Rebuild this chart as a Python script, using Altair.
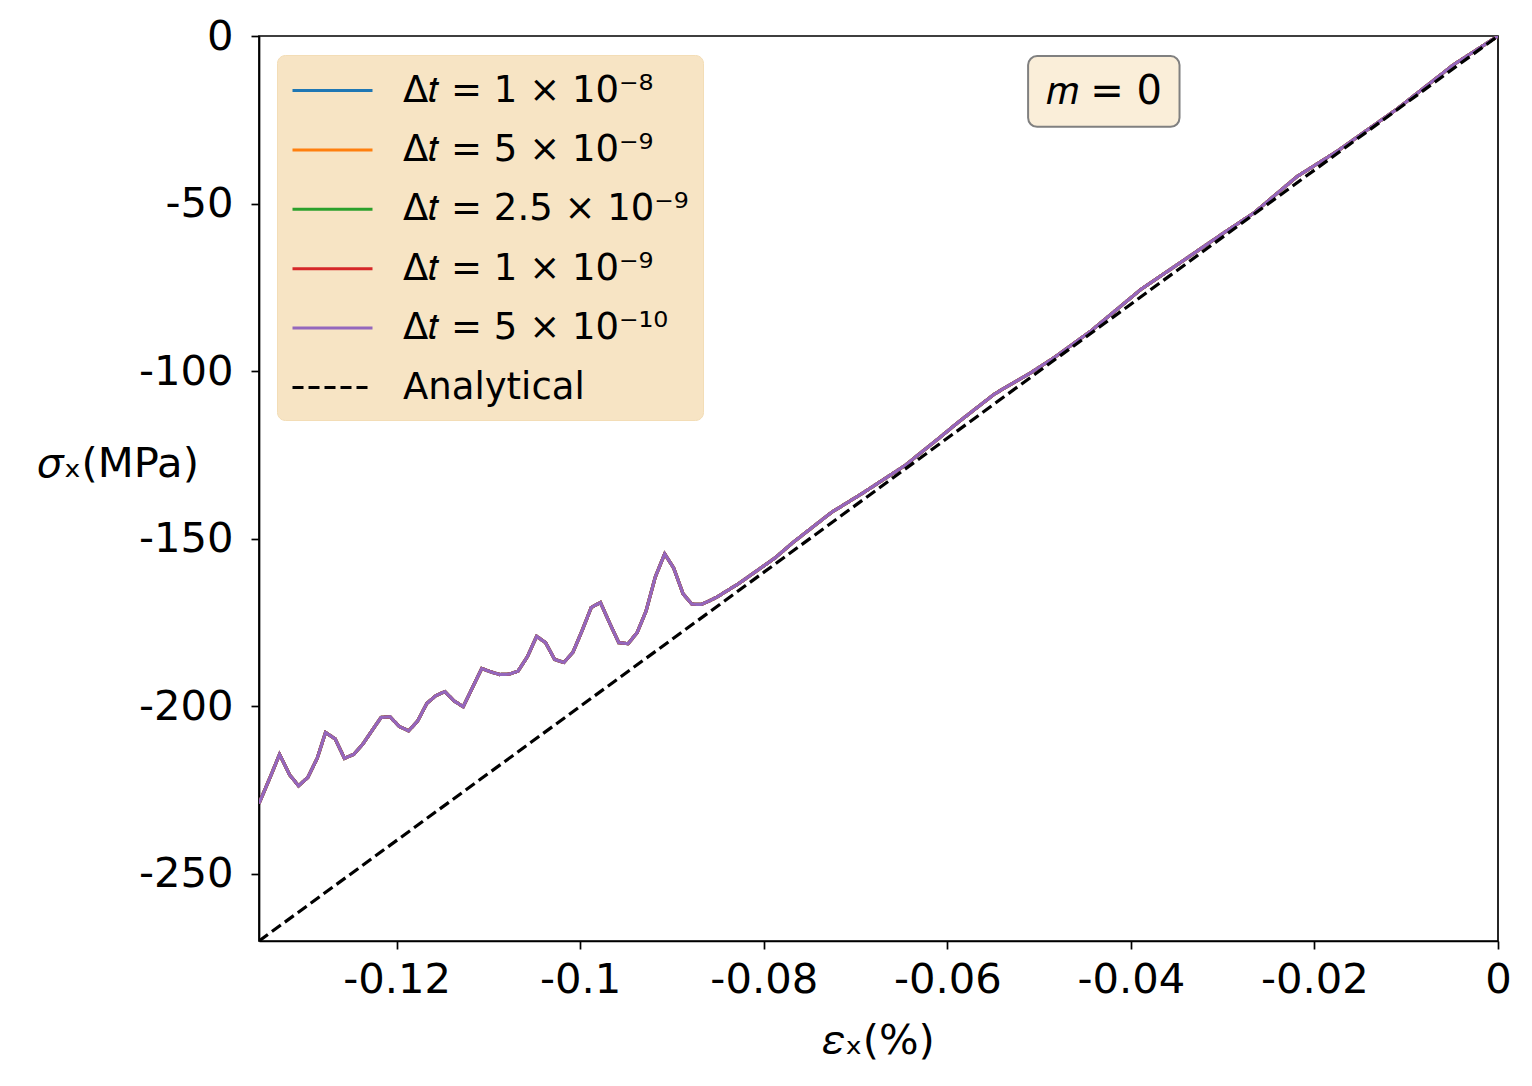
import altair as alt
import pandas as pd

# ---- data ----
series_labels = ["Δ𝑡 = 1 × 10⁻⁸", "Δ𝑡 = 5 × 10⁻⁹", "Δ𝑡 = 2.5 × 10⁻⁹",
                 "Δ𝑡 = 1 × 10⁻⁹", "Δ𝑡 = 5 × 10⁻¹⁰", "Analytical"]
series_colors = ["#1f77b4", "#ff7f0e", "#2ca02c", "#d62728", "#9467bd", "#000000"]
series_dash = [[1, 0], [1, 0], [1, 0], [1, 0], [1, 0], [11, 5]]

strain = [-0.1350, -0.13367, -0.13276, -0.13167, -0.13069, -0.12968, -0.12866, -0.12775,
          -0.12670, -0.12569, -0.12467, -0.12370, -0.12268, -0.12170, -0.12073, -0.11971,
          -0.11870, -0.11772, -0.11671, -0.11573, -0.11475, -0.11373, -0.11275, -0.11174,
          -0.11073, -0.10975, -0.10878, -0.10776, -0.10678, -0.10576, -0.10475, -0.10377,
          -0.10279, -0.10178, -0.10080, -0.09978, -0.09880, -0.09780, -0.09677, -0.09580,
          -0.09478, -0.09380, -0.09283, -0.09182, -0.09080, -0.08982, -0.08880, -0.08783,
          -0.08682, -0.08584, -0.08511, -0.08275, -0.07877, -0.07677, -0.07261, -0.06935,
          -0.06464, -0.06101, -0.05884, -0.05486, -0.05087, -0.04833, -0.04435, -0.03891,
          -0.03493, -0.02986, -0.02660, -0.02188, -0.01753, -0.01464, -0.01101, -0.00812,
          -0.00486, 0.0]
stress = [-229.0, -220.4, -214.3, -220.4, -223.7, -221.2, -215.5, -207.8,
          -209.7, -215.5, -214.3, -211.3, -207.2, -203.3, -203.1, -206.0,
          -207.3, -204.4, -199.1, -196.8, -195.6, -198.4, -200.1, -194.4,
          -188.7, -189.7, -190.5, -190.4, -189.5, -185.2, -179.1, -181.0,
          -186.0, -186.9, -183.9, -177.3, -170.5, -169.0, -175.3, -181.0,
          -181.3, -178.0, -171.6, -161.4, -154.5, -158.7, -166.4, -169.5,
          -169.6, -168.4, -167.4, -163.4, -155.7, -151.0, -142.1, -136.6,
          -128.2, -120.2, -115.3, -106.8, -100.4, -95.9, -88.0, -75.6,
          -68.2, -58.7, -52.8, -41.9, -34.4, -28.8, -21.8, -15.6,
          -8.6, 0.0]

analytical_strain = [-0.135, 0.0]
analytical_stress = [-270.0, 0.0]

x_ticks = [-0.12, -0.1, -0.08, -0.06, -0.04, -0.02, 0.0]
y_ticks = [0, -50, -100, -150, -200, -250]

# annotation box "m = 0"
box_label = ["𝑚 = 0"]
box_x = [-0.0512]
box_x2 = [-0.0347]
box_y = [-6.0]
box_y2 = [-27.1]
box_tx = [-0.04295]
box_ty = [-16.6]

# ---- build table ----
rows = []
for s in series_labels[:5]:
    for i, (e, v) in enumerate(zip(strain, stress)):
        rows.append({"series": s, "order": i, "strain": e, "stress": v})
for i, (e, v) in enumerate(zip(analytical_strain, analytical_stress)):
    rows.append({"series": "Analytical", "order": i, "strain": e, "stress": v})
df = pd.DataFrame(rows)

box_df = pd.DataFrame({"strain": box_x, "strain2": box_x2, "stress": box_y,
                       "stress2": box_y2, "tx": box_tx, "ty": box_ty, "label": box_label})

FONT = "DejaVu Sans"
label_expr = "datum.value < 0 ? '-' + format(-datum.value, '~g') : '0'"

xscale = alt.Scale(domain=[-0.135, 0], nice=False, zero=False)
yscale = alt.Scale(domain=[-270, 0], nice=False, zero=False)

legend = alt.Legend(
    title=None, orient="none", legendX=18, legendY=19,
    fillColor="#F7E4C4", strokeColor="#F3DDB6", cornerRadius=8, padding=14,
    symbolType="M-1,0H3", symbolSize=1600, symbolStrokeWidth=3,
    labelFont=FONT, labelFontSize=37, labelColor="black", labelOffset=69,
    rowPadding=19.4, labelLimit=600,
)

lines = alt.Chart(df).mark_line(strokeWidth=3.2, clip=True).encode(
    x=alt.X("strain:Q", scale=xscale,
            axis=alt.Axis(values=x_ticks, title="𝜀ₓ(%)", labelExpr=label_expr,
                          labelFlush=False, labelOverlap=False, labelPadding=10,
                          titlePadding=20)),
    y=alt.Y("stress:Q", scale=yscale,
            axis=alt.Axis(values=y_ticks, title="𝜎ₓ(MPa)", labelExpr=label_expr,
                          labelFlush=False, labelOverlap=False, labelPadding=18,
                          titleAngle=0, titleX=-141, titleY=427, titleAlign="center",
                          titleBaseline="middle")),
    color=alt.Color("series:N", scale=alt.Scale(domain=series_labels, range=series_colors),
                    legend=legend),
    strokeDash=alt.StrokeDash("series:N", scale=alt.Scale(domain=series_labels, range=series_dash),
                              legend=legend),
    order="order:Q",
)

box = alt.Chart(box_df).mark_rect(cornerRadius=9, fill="#FAEED9", stroke="#808080",
                                  strokeWidth=2).encode(
    x=alt.X("strain:Q", scale=xscale), x2="strain2:Q",
    y=alt.Y("stress:Q", scale=yscale), y2="stress2:Q",
)

txt = alt.Chart(box_df).mark_text(font=FONT, fontSize=40, color="black",
                                  align="center", baseline="middle").encode(
    x=alt.X("tx:Q", scale=xscale), y=alt.Y("ty:Q", scale=yscale), text="label:N",
)

chart = alt.layer(lines, box, txt).properties(
    width=1239, height=905,
    autosize=alt.AutoSizeParams(type="none"),
    padding={"left": 251, "top": 28, "right": 26, "bottom": 137},
    background="white",
).configure_view(
    stroke="black", strokeWidth=1.7,
).configure_axis(
    grid=False, domainColor="black", domainWidth=1.7, tickColor="black", tickWidth=1.7,
    tickSize=8, labelFont=FONT, labelFontSize=41.7, labelColor="black",
    titleFont=FONT, titleFontSize=41.7, titleFontWeight="normal", titleColor="black",
)

chart.save("out.html", embed_options={"renderer": "svg", "actions": False})
